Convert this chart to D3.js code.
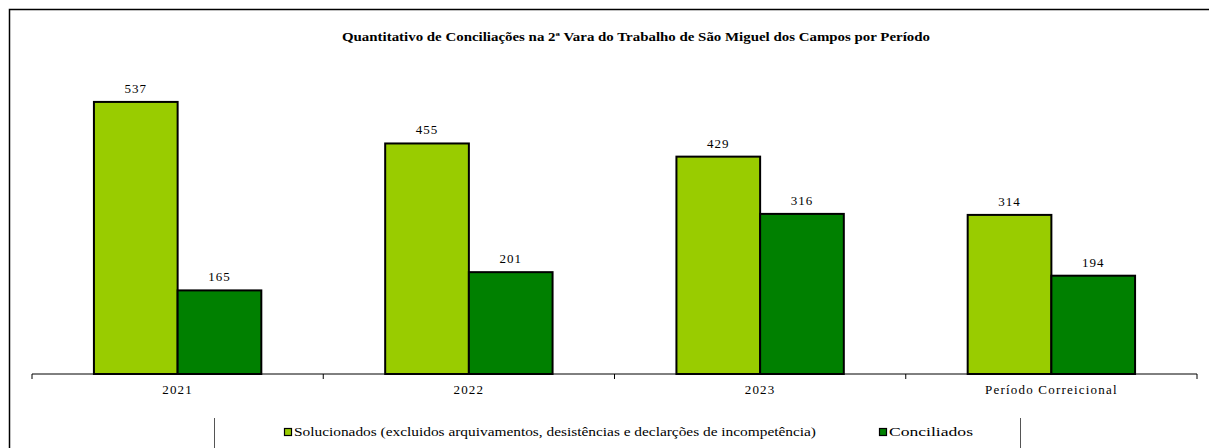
<!DOCTYPE html>
<html>
<head>
<meta charset="utf-8">
<script src="https://cdn.jsdelivr.net/npm/d3@7"></script>
<style>
  body { margin: 0; background: #fff; }
</style>
</head>
<body>
<div id="chart"></div>
<script>
// chart data
const categories  = ["2021", "2022", "2023", "Período Correicional"];
const solucionados = [537, 455, 429, 314];
const conciliados  = [165, 201, 316, 194];
const seriesNames  = ["Solucionados (excluidos arquivamentos, desistências e declarções de incompetência)", "Conciliados"];
const seriesColors = ["#99cc00", "#008000"];
const title = "Quantitativo de Conciliações na 2ª Vara do Trabalho de São Miguel dos Campos por Período";

var width = 1209,
    height = 448;
var serif = "Liberation Serif";

var svg = d3.select("#chart")
    .append("svg")
        .attr("width", width)
        .attr("height", height)
        .attr("font-family", serif);

// outer frame (only left and top edges visible)
svg.append("path")
    .attr("d", "M9.5,448 V9.5 H1209")
    .attr("fill", "none")
    .attr("stroke", "black")
    .attr("stroke-width", 1.5);

// title
svg.append("text")
    .attr("x", 636)
    .attr("y", 41)
    .attr("text-anchor", "middle")
    .attr("font-family", serif)
    .attr("font-weight", "bold")
    .attr("font-size", "13px")
    .attr("textLength", 588)
    .attr("lengthAdjust", "spacingAndGlyphs")
    .text(title);

// scales
var x = d3.scaleBand()
    .domain(categories)
    .range([32, 1197])
    .paddingInner(0)
    .paddingOuter(0);

var x1 = d3.scaleBand()
    .domain([0, 1])
    .range([0, x.bandwidth()])
    .paddingOuter(0.74)
    .paddingInner(0);

var y = d3.scaleLinear()
    .domain([0, 600])
    .range([374, 70]);

var data = categories.map((c, i) => ({cat: c, values: [solucionados[i], conciliados[i]]}));

var groups = svg.selectAll("g.grp")
    .data(data)
    .enter()
    .append("g")
        .attr("class", "grp")
        .attr("transform", d => "translate(" + x(d.cat) + ",0)");

groups.selectAll("rect")
    .data(d => d.values.map((v, k) => ({k: k, v: v})))
    .enter()
    .append("rect")
        .attr("x", d => x1(d.k))
        .attr("y", d => y(d.v))
        .attr("width", x1.bandwidth())
        .attr("height", d => y(0) - y(d.v))
        .attr("fill", d => seriesColors[d.k])
        .attr("stroke", "black")
        .attr("stroke-width", 2);

// value labels
groups.selectAll("text.val")
    .data(d => d.values.map((v, k) => ({k: k, v: v})))
    .enter()
    .append("text")
        .attr("class", "val")
        .attr("x", d => x1(d.k) + x1.bandwidth() / 2)
        .attr("y", d => y(d.v) - 9)
        .attr("text-anchor", "middle")
        .attr("font-family", serif)
        .attr("font-size", "13px")
        .attr("letter-spacing", "1px")
        .text(d => d.v);

// x axis
var axis = svg.append("g")
    .attr("transform", "translate(0,374)");

axis.append("line")
    .attr("x1", 32).attr("x2", 1197)
    .attr("stroke", "black")
    .attr("stroke-width", 1);

var tickPos = categories.map(c => x(c)).concat([x.range()[1]]);
axis.selectAll("line.tick")
    .data(tickPos)
    .enter()
    .append("line")
        .attr("class", "tick")
        .attr("x1", d => d).attr("x2", d => d)
        .attr("y1", 0).attr("y2", 5)
        .attr("stroke", "black");

axis.selectAll("text")
    .data(categories)
    .enter()
    .append("text")
        .attr("x", d => x(d) + x.bandwidth() / 2)
        .attr("y", 20)
        .attr("text-anchor", "middle")
        .attr("font-family", serif)
        .attr("font-size", "13px")
        .attr("letter-spacing", "1.2px")
        .text(d => d);

// legend
var legend = svg.append("g");
[214, 1020].forEach(function(lx) {
    legend.append("line")
        .attr("x1", lx + 0.5).attr("x2", lx + 0.5)
        .attr("y1", 418).attr("y2", 448)
        .attr("stroke", "#555")
        .attr("stroke-width", 1);
});

var legendX = [284, 879];
var legendW = [522, 84];
seriesNames.forEach(function(name, i) {
    legend.append("rect")
        .attr("x", legendX[i] + 0.5)
        .attr("y", 428.5)
        .attr("width", 7)
        .attr("height", 7)
        .attr("fill", seriesColors[i])
        .attr("stroke", "black")
        .attr("stroke-width", 1.2);
    legend.append("text")
        .attr("x", legendX[i] + 10)
        .attr("y", 436)
        .attr("font-family", serif)
        .attr("font-size", "11.5px")
        .attr("textLength", legendW[i])
        .attr("lengthAdjust", "spacingAndGlyphs")
        .text(name);
});
</script>
</body>
</html>
